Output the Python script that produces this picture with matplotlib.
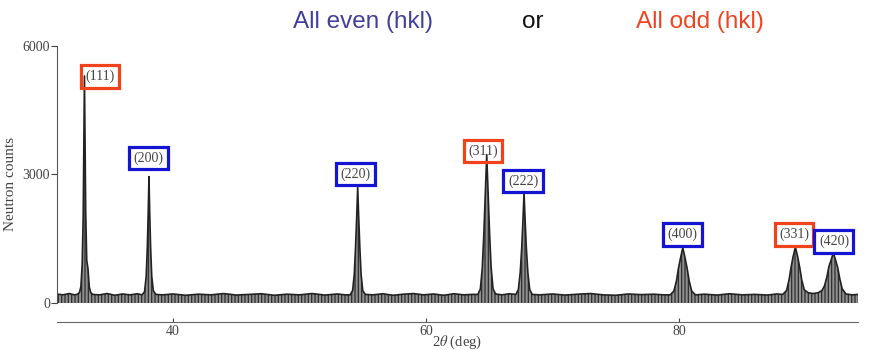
import matplotlib
matplotlib.use("Agg")
import matplotlib.pyplot as plt

# ---- data ----
two_theta = [30.8, 31.3, 31.8, 32.2, 32.4, 32.6, 32.72, 32.82, 32.90, 32.95, 33.00, 33.05, 33.10, 33.18, 33.28, 33.38, 33.50, 33.65,
             34.2, 34.8, 35.4, 36.0, 36.6, 37.2, 37.55, 37.75, 37.88, 37.97, 38.04, 38.10, 38.16, 38.23, 38.32, 38.45, 38.65,
             39.2, 40.0, 41.0, 42.0, 43.0, 44.0, 45.0, 46.0, 47.0, 48.0, 49.0, 50.0, 51.0, 52.0, 53.0, 53.6, 54.0, 54.20, 54.33,
             54.43, 54.52, 54.60, 54.68, 54.77, 54.87, 55.00, 55.20, 55.8, 56.6, 57.4, 58.2, 59.0, 59.8, 60.6, 61.4, 62.2, 63.0,
             63.6, 64.10, 64.30, 64.45, 64.57, 64.68, 64.80, 64.92, 65.03, 65.15, 65.30, 65.50, 66.0, 66.6, 67.10, 67.30, 67.45,
             67.57, 67.66, 67.75, 67.84, 67.93, 68.05, 68.20, 68.40, 69.0, 70.0, 71.0, 72.0, 73.0, 74.0, 75.0, 76.0, 77.0, 78.0,
             78.8, 79.30, 79.60, 79.80, 79.95, 80.12, 80.30, 80.48, 80.65, 80.80, 81.00, 81.30, 82.0, 83.0, 84.0, 85.0, 86.0,
             87.0, 87.7, 88.20, 88.50, 88.70, 88.85, 89.02, 89.20, 89.38, 89.55, 89.70, 89.90, 90.20, 90.60, 91.00, 91.30, 91.50,
             91.70, 91.85, 92.02, 92.20, 92.38, 92.55, 92.70, 92.90, 93.20, 93.7, 94.15]
counts = [210, 190, 220, 190, 200, 240, 380, 900, 2000, 3600, 5300, 3600, 2100, 1000, 800, 380, 240, 200,
          190, 220, 180, 210, 190, 215, 190, 260, 620, 1300, 2100, 2950, 2100, 1300, 620, 280, 200,
          190, 210, 180, 205, 190, 220, 185, 200, 215, 180, 205, 190, 220, 185, 210, 190, 190, 290, 670,
          1300, 2000, 2700, 2000, 1300, 670, 290, 200, 190, 215, 180, 205, 220, 190, 210, 180, 215, 190,
          200, 200, 330, 820, 1600, 2500, 3460, 2500, 1600, 820, 330, 210, 190, 215, 200, 310, 720,
          1300, 1900, 2570, 1900, 1300, 720, 310, 200, 190, 210, 185, 205, 220, 190, 180, 210, 195, 205,
          190, 190, 280, 520, 800, 1050, 1290, 1050, 800, 520, 280, 190, 205, 185, 215, 190, 200,
          185, 210, 200, 290, 540, 820, 1080, 1310, 1080, 820, 540, 310, 240, 220, 240, 290, 400,
          620, 850, 1000, 1170, 1000, 820, 580, 330, 210, 190, 200]

peak_labels = ["(111)", "(200)", "(220)", "(311)", "(222)", "(400)", "(331)", "(420)"]
label_x = [34.23, 38.06, 54.43, 64.51, 67.67, 80.28, 89.09, 92.25]
label_y = [5290, 3388, 3014, 3551, 2850, 1600, 1600, 1437]
label_kind = ["odd", "even", "even", "odd", "even", "even", "odd", "even"]

x_ticks = [40, 60, 80]
y_ticks = [0, 3000, 6000]

RED = "#f0431c"
BLUE = "#1414d2"

plt.rcParams["mathtext.fontset"] = "stix"
plt.rcParams["hatch.linewidth"] = 0.9
fig = plt.figure(figsize=(8.76, 3.5), dpi=100)
ax = fig.add_axes([57 / 876, 1 - 322 / 350, (858 - 57) / 876, (322 - 46) / 350])

ax.fill_between(two_theta, 0, counts, facecolor="#8f8f8f", edgecolor="#2e2e2e",
                hatch="|||||", linewidth=0.0)
ax.plot(two_theta, counts, color="#222222", lw=1.2)

ax.set_xlim(30.83, 94.15)
ax.set_ylim(-444, 6000)

for s in ["top", "right"]:
    ax.spines[s].set_visible(False)
ax.spines["left"].set_bounds(0, 6000)
ax.spines["left"].set_color("#555555")
ax.spines["bottom"].set_color("#666666")
ax.spines["left"].set_linewidth(0.8)
ax.spines["bottom"].set_linewidth(0.8)

ax.set_xticks(x_ticks)
ax.set_yticks(y_ticks)
ax.tick_params(axis="x", direction="in", length=3, pad=2, colors="#444444", labelsize=10)
ax.tick_params(axis="y", direction="out", length=4, pad=1, colors="#444444", labelsize=10)
for lab in ax.get_xticklabels() + ax.get_yticklabels():
    lab.set_fontfamily("Liberation Serif")

ax.set_ylabel("Neutron counts", fontfamily="Liberation Serif", fontsize=11, color="#444444", labelpad=4)
ax.set_xlabel("2$\\theta$ (deg)", fontfamily="Liberation Serif", fontsize=10.5, color="#444444", labelpad=-3)

for lab, lx, ly, kind in zip(peak_labels, label_x, label_y, label_kind):
    col = RED if kind == "odd" else BLUE
    ax.text(lx, ly, lab, ha="center", va="center", fontsize=10, fontfamily="Liberation Serif",
            color="#444444",
            bbox=dict(boxstyle="square,pad=0.32", fc="none", ec=col, lw=2.3))

fig.text(363 / 876, 1 - 22 / 350, "All even (hkl)", ha="center", va="center",
         fontsize=17.5, color="#40409c", fontfamily="Liberation Sans")
fig.text(533 / 876, 1 - 22 / 350, "or", ha="center", va="center",
         fontsize=17.5, color="#111111", fontfamily="Liberation Sans")
fig.text(700 / 876, 1 - 22 / 350, "All odd (hkl)", ha="center", va="center",
         fontsize=17.5, color="#ee4420", fontfamily="Liberation Sans")

fig.savefig("out.png", dpi=100)
